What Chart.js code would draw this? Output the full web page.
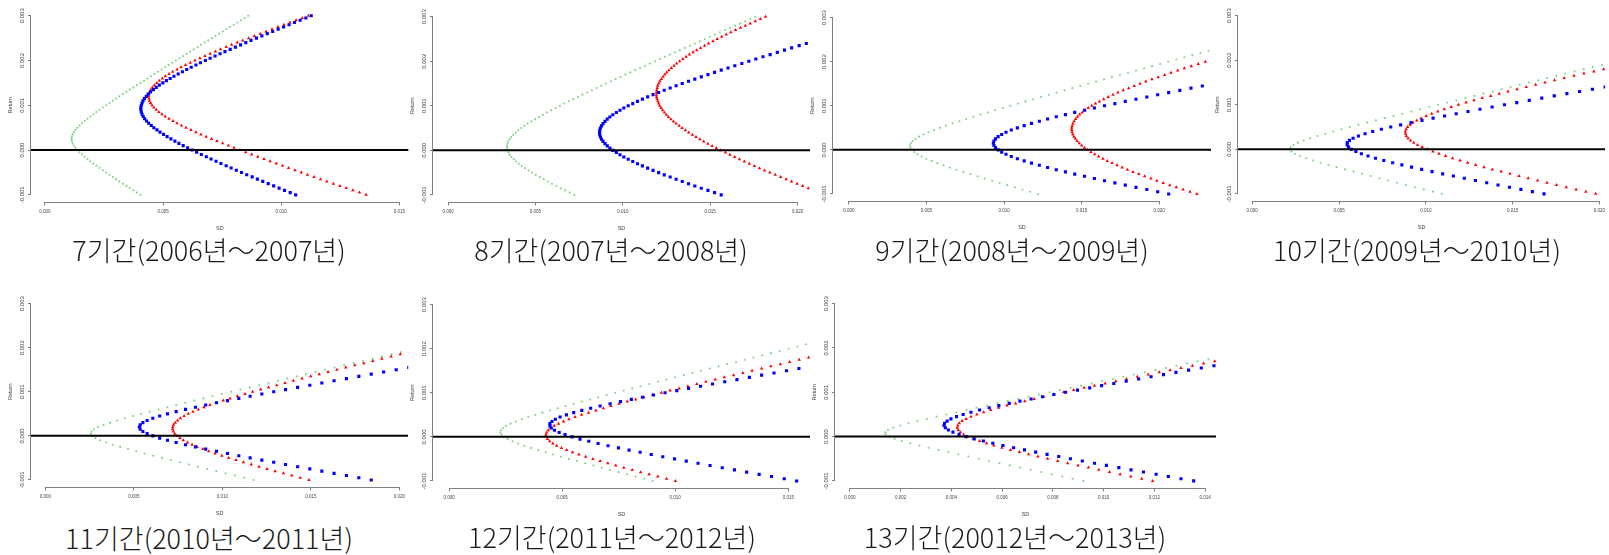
<!DOCTYPE html>
<html>
<head>
<meta charset="utf-8">
<script src="https://cdn.jsdelivr.net/npm/chart.js"></script>
<style>
  body { margin: 0; background: #fff; width: 1609px; height: 555px; position: relative; overflow: hidden; }
  .cap { position: absolute; font-family: "Noto Sans CJK KR", sans-serif; font-weight: 300; font-size: 27px; line-height: 30px; color: #1a1a1a; white-space: nowrap; transform: translateX(-50%); }
</style>
</head>
<body>
<script>
// target returns shared by every frontier
const RETURNS = [-0.001, -0.00095, -0.0009, -0.00085, -0.0008, -0.00075, -0.0007, -0.00065, -0.0006, -0.00055,
  -0.0005, -0.00045, -0.0004, -0.00035, -0.0003, -0.00025, -0.0002, -0.00015, -0.0001, -0.00005,
  0, 0.00005, 0.0001, 0.00015, 0.0002, 0.00025, 0.0003, 0.00035, 0.0004, 0.00045,
  0.0005, 0.00055, 0.0006, 0.00065, 0.0007, 0.00075, 0.0008, 0.00085, 0.0009, 0.00095,
  0.001, 0.00105, 0.0011, 0.00115, 0.0012, 0.00125, 0.0013, 0.00135, 0.0014, 0.00145,
  0.0015, 0.00155, 0.0016, 0.00165, 0.0017, 0.00175, 0.0018, 0.00185, 0.0019, 0.00195,
  0.002, 0.00205, 0.0021, 0.00215, 0.0022, 0.00225, 0.0023, 0.00235, 0.0024, 0.00245,
  0.0025, 0.00255, 0.0026, 0.00265, 0.0027, 0.00275, 0.0028, 0.00285, 0.0029, 0.00295, 0.003];

const TITLES = ["7기간(2006년～2007년)", "8기간(2007년～2008년)", "9기간(2008년～2009년)", "10기간(2009년～2010년)",
  "11기간(2010년～2011년)", "12기간(2011년～2012년)", "13기간(20012년～2013년)"];

// SD at each target return (lists stop where the curve leaves the plot)
const sd7Green = [0.00404, 0.00389, 0.00374, 0.00359, 0.00345, 0.00330, 0.00315, 0.00301, 0.00287, 0.00273, 0.00259, 0.00245, 0.00231, 0.00218, 0.00205, 0.00192, 0.00180, 0.00168, 0.00157, 0.00146, 0.00137, 0.00129, 0.00122, 0.00117, 0.00114, 0.00113, 0.00114, 0.00117, 0.00122, 0.00129, 0.00137, 0.00146, 0.00157, 0.00168, 0.00180, 0.00192, 0.00205, 0.00218, 0.00231, 0.00245, 0.00259, 0.00273, 0.00287, 0.00301, 0.00315, 0.00330, 0.00345, 0.00359, 0.00374, 0.00389, 0.00404, 0.00419, 0.00434, 0.00449, 0.00464, 0.00479, 0.00494, 0.00509, 0.00524, 0.00539, 0.00554, 0.00569, 0.00585, 0.00600, 0.00615, 0.00630, 0.00646, 0.00661, 0.00676, 0.00691, 0.00707, 0.00722, 0.00737, 0.00753, 0.00768, 0.00783, 0.00799, 0.00814, 0.00829, 0.00845, 0.00860];
const sd7Blue = [0.01061, 0.01038, 0.01014, 0.00991, 0.00968, 0.00945, 0.00922, 0.00899, 0.00877, 0.00854, 0.00832, 0.00810, 0.00788, 0.00767, 0.00745, 0.00724, 0.00703, 0.00683, 0.00662, 0.00642, 0.00623, 0.00604, 0.00585, 0.00567, 0.00550, 0.00533, 0.00517, 0.00502, 0.00487, 0.00474, 0.00461, 0.00450, 0.00439, 0.00430, 0.00422, 0.00416, 0.00411, 0.00408, 0.00406, 0.00406, 0.00408, 0.00411, 0.00415, 0.00421, 0.00429, 0.00437, 0.00447, 0.00459, 0.00471, 0.00484, 0.00499, 0.00514, 0.00530, 0.00546, 0.00564, 0.00582, 0.00600, 0.00619, 0.00639, 0.00658, 0.00679, 0.00699, 0.00720, 0.00741, 0.00762, 0.00784, 0.00806, 0.00828, 0.00850, 0.00872, 0.00895, 0.00918, 0.00941, 0.00964, 0.00987, 0.01010, 0.01033, 0.01056, 0.01080, 0.01104, 0.01127];
const sd7Red = [0.01359, 0.01331, 0.01303, 0.01275, 0.01248, 0.01221, 0.01193, 0.01166, 0.01139, 0.01111, 0.01085, 0.01058, 0.01031, 0.01005, 0.00979, 0.00953, 0.00927, 0.00901, 0.00875, 0.00850, 0.00825, 0.00800, 0.00776, 0.00752, 0.00728, 0.00705, 0.00682, 0.00660, 0.00639, 0.00618, 0.00597, 0.00578, 0.00559, 0.00542, 0.00525, 0.00509, 0.00495, 0.00482, 0.00471, 0.00461, 0.00453, 0.00447, 0.00442, 0.00440, 0.00439, 0.00440, 0.00443, 0.00448, 0.00455, 0.00463, 0.00473, 0.00484, 0.00497, 0.00510, 0.00525, 0.00541, 0.00559, 0.00576, 0.00595, 0.00615, 0.00635, 0.00656, 0.00677, 0.00699, 0.00721, 0.00743, 0.00767, 0.00790, 0.00814, 0.00837, 0.00862, 0.00886, 0.00911, 0.00936, 0.00961, 0.00986, 0.01012, 0.01037, 0.01063, 0.01089, 0.01115];

const sd8Green = [0.00722, 0.00696, 0.00670, 0.00645, 0.00620, 0.00595, 0.00571, 0.00548, 0.00525, 0.00502, 0.00481, 0.00460, 0.00441, 0.00422, 0.00405, 0.00389, 0.00376, 0.00363, 0.00353, 0.00346, 0.00340, 0.00338, 0.00337, 0.00340, 0.00344, 0.00352, 0.00361, 0.00373, 0.00387, 0.00402, 0.00419, 0.00437, 0.00456, 0.00477, 0.00498, 0.00520, 0.00543, 0.00566, 0.00590, 0.00615, 0.00640, 0.00665, 0.00691, 0.00717, 0.00743, 0.00769, 0.00796, 0.00823, 0.00850, 0.00877, 0.00904, 0.00932, 0.00959, 0.00987, 0.01015, 0.01043, 0.01071, 0.01099, 0.01127, 0.01155, 0.01184, 0.01212, 0.01241, 0.01269, 0.01298, 0.01326, 0.01355, 0.01384, 0.01412, 0.01441, 0.01469, 0.01499, 0.01527, 0.01556, 0.01585, 0.01614, 0.01643, 0.01672, 0.01700, 0.01729, 0.01758];
const sd8Blue = [0.01563, 0.01525, 0.01487, 0.01449, 0.01412, 0.01376, 0.01340, 0.01305, 0.01271, 0.01237, 0.01205, 0.01173, 0.01142, 0.01112, 0.01084, 0.01057, 0.01031, 0.01006, 0.00984, 0.00963, 0.00943, 0.00926, 0.00911, 0.00898, 0.00887, 0.00878, 0.00872, 0.00868, 0.00867, 0.00868, 0.00872, 0.00878, 0.00887, 0.00898, 0.00911, 0.00926, 0.00943, 0.00963, 0.00984, 0.01006, 0.01031, 0.01057, 0.01084, 0.01112, 0.01142, 0.01173, 0.01205, 0.01237, 0.01271, 0.01305, 0.01340, 0.01376, 0.01412, 0.01449, 0.01487, 0.01525, 0.01563, 0.01602, 0.01641, 0.01681, 0.01721, 0.01761, 0.01802, 0.01843, 0.01884, 0.01925, 0.01966, 0.02009, 0.02050, 0.02092, 0.02135];
const sd8Red = [0.02159, 0.02126, 0.02093, 0.02061, 0.02029, 0.01997, 0.01965, 0.01934, 0.01903, 0.01872, 0.01841, 0.01811, 0.01782, 0.01753, 0.01724, 0.01695, 0.01667, 0.01640, 0.01613, 0.01587, 0.01560, 0.01535, 0.01511, 0.01487, 0.01463, 0.01441, 0.01419, 0.01398, 0.01377, 0.01358, 0.01339, 0.01322, 0.01305, 0.01290, 0.01275, 0.01261, 0.01249, 0.01238, 0.01228, 0.01219, 0.01211, 0.01205, 0.01200, 0.01196, 0.01193, 0.01192, 0.01192, 0.01194, 0.01197, 0.01200, 0.01206, 0.01212, 0.01221, 0.01230, 0.01240, 0.01251, 0.01264, 0.01278, 0.01293, 0.01308, 0.01325, 0.01343, 0.01362, 0.01381, 0.01402, 0.01423, 0.01445, 0.01468, 0.01491, 0.01516, 0.01540, 0.01566, 0.01592, 0.01618, 0.01645, 0.01673, 0.01701, 0.01729, 0.01758, 0.01787, 0.01817];

const sd9Green = [0.01219, 0.01169, 0.01119, 0.01070, 0.01021, 0.00972, 0.00924, 0.00876, 0.00830, 0.00783, 0.00738, 0.00694, 0.00651, 0.00610, 0.00570, 0.00534, 0.00499, 0.00469, 0.00442, 0.00421, 0.00405, 0.00396, 0.00394, 0.00399, 0.00411, 0.00429, 0.00452, 0.00481, 0.00513, 0.00548, 0.00586, 0.00626, 0.00668, 0.00712, 0.00756, 0.00802, 0.00848, 0.00895, 0.00943, 0.00992, 0.01040, 0.01090, 0.01139, 0.01188, 0.01239, 0.01289, 0.01339, 0.01390, 0.01441, 0.01492, 0.01543, 0.01594, 0.01645, 0.01696, 0.01748, 0.01800, 0.01852, 0.01903, 0.01955, 0.02007, 0.02059, 0.02111, 0.02163, 0.02214, 0.02267, 0.02319, 0.02371];
const sd9Blue = [0.02062, 0.01991, 0.01921, 0.01851, 0.01782, 0.01715, 0.01648, 0.01583, 0.01519, 0.01456, 0.01396, 0.01337, 0.01281, 0.01228, 0.01177, 0.01130, 0.01086, 0.01047, 0.01013, 0.00985, 0.00962, 0.00945, 0.00935, 0.00931, 0.00935, 0.00945, 0.00962, 0.00985, 0.01013, 0.01047, 0.01086, 0.01130, 0.01177, 0.01228, 0.01281, 0.01337, 0.01396, 0.01456, 0.01519, 0.01583, 0.01648, 0.01715, 0.01782, 0.01851, 0.01921, 0.01991, 0.02062, 0.02134, 0.02206, 0.02279, 0.02352];
const sd9Red = [0.02244, 0.02199, 0.02155, 0.02111, 0.02069, 0.02027, 0.01986, 0.01947, 0.01907, 0.01869, 0.01832, 0.01796, 0.01762, 0.01729, 0.01697, 0.01666, 0.01638, 0.01610, 0.01585, 0.01561, 0.01539, 0.01519, 0.01501, 0.01485, 0.01471, 0.01460, 0.01451, 0.01444, 0.01439, 0.01437, 0.01437, 0.01440, 0.01445, 0.01453, 0.01462, 0.01474, 0.01488, 0.01504, 0.01523, 0.01543, 0.01566, 0.01590, 0.01616, 0.01643, 0.01672, 0.01703, 0.01735, 0.01769, 0.01804, 0.01840, 0.01877, 0.01915, 0.01954, 0.01994, 0.02036, 0.02077, 0.02120, 0.02163, 0.02208, 0.02253, 0.02298, 0.02344, 0.02390];

const sd10Green = [0.01092, 0.01041, 0.00989, 0.00937, 0.00886, 0.00834, 0.00783, 0.00733, 0.00682, 0.00632, 0.00583, 0.00534, 0.00486, 0.00439, 0.00394, 0.00351, 0.00311, 0.00275, 0.00246, 0.00226, 0.00217, 0.00221, 0.00237, 0.00263, 0.00296, 0.00334, 0.00376, 0.00421, 0.00467, 0.00514, 0.00563, 0.00612, 0.00662, 0.00712, 0.00763, 0.00814, 0.00865, 0.00917, 0.00968, 0.01020, 0.01071, 0.01123, 0.01176, 0.01228, 0.01280, 0.01332, 0.01385, 0.01437, 0.01489, 0.01541, 0.01594, 0.01647, 0.01699, 0.01752, 0.01804, 0.01857, 0.01910, 0.01962, 0.02015, 0.02068, 0.02120];
const sd10Blue = [0.01681, 0.01614, 0.01548, 0.01482, 0.01416, 0.01351, 0.01286, 0.01222, 0.01159, 0.01097, 0.01036, 0.00976, 0.00918, 0.00862, 0.00809, 0.00758, 0.00710, 0.00667, 0.00629, 0.00597, 0.00572, 0.00555, 0.00547, 0.00548, 0.00560, 0.00581, 0.00612, 0.00650, 0.00694, 0.00744, 0.00798, 0.00855, 0.00915, 0.00978, 0.01042, 0.01108, 0.01175, 0.01243, 0.01312, 0.01382, 0.01453, 0.01524, 0.01596, 0.01668, 0.01740, 0.01813, 0.01886, 0.01960, 0.02033, 0.02107, 0.02181];
const sd10Red = [0.01979, 0.01922, 0.01866, 0.01809, 0.01753, 0.01698, 0.01644, 0.01590, 0.01537, 0.01485, 0.01434, 0.01383, 0.01335, 0.01287, 0.01241, 0.01197, 0.01154, 0.01114, 0.01076, 0.01041, 0.01008, 0.00979, 0.00952, 0.00930, 0.00912, 0.00898, 0.00888, 0.00883, 0.00882, 0.00887, 0.00895, 0.00909, 0.00926, 0.00948, 0.00973, 0.01002, 0.01034, 0.01069, 0.01106, 0.01146, 0.01188, 0.01232, 0.01278, 0.01325, 0.01374, 0.01423, 0.01474, 0.01526, 0.01579, 0.01633, 0.01687, 0.01742, 0.01797, 0.01854, 0.01911, 0.01968, 0.02025, 0.02083, 0.02142];

const sd11Green = [0.01176, 0.01124, 0.01071, 0.01018, 0.00966, 0.00914, 0.00862, 0.00811, 0.00760, 0.00709, 0.00659, 0.00609, 0.00561, 0.00513, 0.00467, 0.00423, 0.00381, 0.00343, 0.00310, 0.00283, 0.00265, 0.00257, 0.00261, 0.00275, 0.00298, 0.00329, 0.00366, 0.00406, 0.00449, 0.00495, 0.00541, 0.00590, 0.00639, 0.00689, 0.00739, 0.00790, 0.00842, 0.00893, 0.00945, 0.00998, 0.01050, 0.01102, 0.01155, 0.01208, 0.01261, 0.01314, 0.01367, 0.01421, 0.01473, 0.01527, 0.01581, 0.01634, 0.01688, 0.01741, 0.01794, 0.01848, 0.01901, 0.01956, 0.02009, 0.02063, 0.02117];
const sd11Blue = [0.01841, 0.01771, 0.01701, 0.01631, 0.01562, 0.01494, 0.01425, 0.01357, 0.01290, 0.01223, 0.01157, 0.01093, 0.01029, 0.00967, 0.00906, 0.00848, 0.00792, 0.00739, 0.00690, 0.00646, 0.00607, 0.00575, 0.00551, 0.00536, 0.00531, 0.00536, 0.00551, 0.00575, 0.00607, 0.00646, 0.00690, 0.00739, 0.00792, 0.00848, 0.00906, 0.00967, 0.01029, 0.01093, 0.01157, 0.01223, 0.01290, 0.01357, 0.01425, 0.01494, 0.01562, 0.01631, 0.01701, 0.01771, 0.01841, 0.01911, 0.01982, 0.02053, 0.02124];
const sd11Red = [0.01489, 0.01440, 0.01392, 0.01345, 0.01298, 0.01252, 0.01207, 0.01163, 0.01119, 0.01077, 0.01036, 0.00997, 0.00959, 0.00923, 0.00890, 0.00858, 0.00829, 0.00803, 0.00779, 0.00760, 0.00744, 0.00731, 0.00723, 0.00719, 0.00720, 0.00725, 0.00734, 0.00747, 0.00763, 0.00784, 0.00808, 0.00834, 0.00864, 0.00896, 0.00930, 0.00967, 0.01005, 0.01044, 0.01085, 0.01128, 0.01171, 0.01216, 0.01261, 0.01307, 0.01354, 0.01401, 0.01450, 0.01499, 0.01547, 0.01597, 0.01647, 0.01697, 0.01748, 0.01799, 0.01850, 0.01901, 0.01953, 0.02005, 0.02057, 0.02109, 0.02162];

const sd12Green = [0.00900, 0.00863, 0.00825, 0.00787, 0.00750, 0.00712, 0.00675, 0.00638, 0.00602, 0.00566, 0.00530, 0.00495, 0.00460, 0.00427, 0.00394, 0.00363, 0.00333, 0.00305, 0.00281, 0.00259, 0.00243, 0.00232, 0.00227, 0.00229, 0.00238, 0.00252, 0.00272, 0.00295, 0.00322, 0.00350, 0.00381, 0.00413, 0.00447, 0.00481, 0.00516, 0.00551, 0.00587, 0.00624, 0.00660, 0.00697, 0.00735, 0.00772, 0.00810, 0.00847, 0.00885, 0.00924, 0.00961, 0.01000, 0.01038, 0.01076, 0.01114, 0.01153, 0.01192, 0.01230, 0.01269, 0.01307, 0.01346, 0.01385, 0.01423, 0.01462, 0.01501, 0.01540, 0.01579, 0.01617, 0.01657];
const sd12Blue = [0.01537, 0.01482, 0.01426, 0.01371, 0.01316, 0.01262, 0.01208, 0.01154, 0.01101, 0.01049, 0.00997, 0.00945, 0.00894, 0.00845, 0.00796, 0.00749, 0.00703, 0.00659, 0.00618, 0.00579, 0.00544, 0.00513, 0.00487, 0.00466, 0.00452, 0.00446, 0.00446, 0.00455, 0.00470, 0.00491, 0.00519, 0.00551, 0.00587, 0.00626, 0.00668, 0.00712, 0.00758, 0.00806, 0.00855, 0.00904, 0.00955, 0.01007, 0.01059, 0.01112, 0.01165, 0.01219, 0.01273, 0.01328, 0.01382, 0.01437, 0.01492, 0.01547, 0.01603];
const sd12Red = [0.01001, 0.00962, 0.00923, 0.00885, 0.00847, 0.00810, 0.00773, 0.00737, 0.00702, 0.00668, 0.00636, 0.00604, 0.00574, 0.00546, 0.00520, 0.00497, 0.00476, 0.00459, 0.00445, 0.00435, 0.00429, 0.00428, 0.00431, 0.00439, 0.00450, 0.00465, 0.00484, 0.00506, 0.00530, 0.00557, 0.00586, 0.00617, 0.00649, 0.00682, 0.00716, 0.00752, 0.00788, 0.00825, 0.00862, 0.00900, 0.00939, 0.00977, 0.01017, 0.01056, 0.01096, 0.01136, 0.01177, 0.01217, 0.01258, 0.01299, 0.01340, 0.01382, 0.01423, 0.01465, 0.01506, 0.01548, 0.01590, 0.01632, 0.01674];

const sd13Green = [0.00920, 0.00878, 0.00837, 0.00795, 0.00754, 0.00712, 0.00671, 0.00630, 0.00589, 0.00548, 0.00508, 0.00467, 0.00427, 0.00388, 0.00349, 0.00310, 0.00273, 0.00238, 0.00205, 0.00176, 0.00154, 0.00140, 0.00139, 0.00150, 0.00171, 0.00199, 0.00231, 0.00266, 0.00303, 0.00341, 0.00380, 0.00419, 0.00459, 0.00499, 0.00540, 0.00581, 0.00622, 0.00663, 0.00704, 0.00745, 0.00787, 0.00828, 0.00870, 0.00911, 0.00953, 0.00995, 0.01036, 0.01078, 0.01119, 0.01162, 0.01204, 0.01246, 0.01287, 0.01329, 0.01371, 0.01413, 0.01455];
const sd13Blue = [0.01355, 0.01305, 0.01255, 0.01207, 0.01157, 0.01108, 0.01060, 0.01011, 0.00964, 0.00916, 0.00869, 0.00823, 0.00777, 0.00732, 0.00688, 0.00645, 0.00603, 0.00563, 0.00526, 0.00490, 0.00458, 0.00430, 0.00406, 0.00388, 0.00376, 0.00371, 0.00373, 0.00383, 0.00398, 0.00420, 0.00446, 0.00477, 0.00511, 0.00549, 0.00587, 0.00628, 0.00670, 0.00714, 0.00759, 0.00804, 0.00850, 0.00897, 0.00945, 0.00992, 0.01040, 0.01089, 0.01138, 0.01187, 0.01236, 0.01285, 0.01335, 0.01385, 0.01435, 0.01484, 0.01535];
const sd13Red = [0.01193, 0.01150, 0.01107, 0.01065, 0.01023, 0.00981, 0.00940, 0.00899, 0.00858, 0.00819, 0.00779, 0.00741, 0.00704, 0.00668, 0.00633, 0.00599, 0.00567, 0.00538, 0.00511, 0.00486, 0.00465, 0.00448, 0.00435, 0.00427, 0.00423, 0.00425, 0.00431, 0.00442, 0.00458, 0.00477, 0.00500, 0.00527, 0.00555, 0.00586, 0.00619, 0.00653, 0.00689, 0.00726, 0.00764, 0.00803, 0.00842, 0.00882, 0.00923, 0.00964, 0.01006, 0.01048, 0.01090, 0.01133, 0.01176, 0.01219, 0.01262, 0.01305, 0.01350, 0.01394, 0.01438];

// visible SD range of each small plot, and its x tick step
const X_RANGES = [[-0.00059, 0.01539], [-0.00086, 0.02071], [-0.00103, 0.02335], [-0.00082, 0.02033],
  [-0.00081, 0.0205], [-0.00071, 0.01596], [-0.00059, 0.01443]];
const X_STEPS = [0.005, 0.005, 0.005, 0.005, 0.005, 0.005, 0.002];
const Y_RANGE = [-0.00116, 0.00316];

// page layout: plot box [left, top, right, bottom] and caption centre
const panels = [
  { green: sd7Green, blue: sd7Blue, red: sd7Red, box: [31, 8, 409, 202], cap: [209, 250] },
  { green: sd8Green, blue: sd8Blue, red: sd8Red, box: [433, 9, 810, 202], cap: [611, 250] },
  { green: sd9Green, blue: sd9Blue, red: sd9Red, box: [833, 10, 1211, 201], cap: [1012, 250] },
  { green: sd10Green, blue: sd10Blue, red: sd10Red, box: [1238, 8, 1609, 201], cap: [1417, 250] },
  { green: sd11Green, blue: sd11Blue, red: sd11Red, box: [31, 296, 409, 487], cap: [209, 538] },
  { green: sd12Green, blue: sd12Blue, red: sd12Red, box: [433, 297, 810, 488], cap: [612, 537] },
  { green: sd13Green, blue: sd13Blue, red: sd13Red, box: [835, 296, 1216, 488], cap: [1015, 537] }
];

Chart.defaults.font.family = '"Liberation Sans", Arial, sans-serif';
Chart.defaults.animation = false;

// R draws its axis line only between the first and last tick
const rAxisLines = {
  id: 'rAxisLines',
  afterDraw(chart) {
    const { ctx, chartArea, scales } = chart;
    const xt = scales.x.ticks, yt = scales.y.ticks;
    ctx.save();
    ctx.strokeStyle = '#808080';
    ctx.lineWidth = 1;
    ctx.beginPath();
    ctx.moveTo(scales.x.getPixelForValue(xt[0].value), chartArea.bottom + 0.5);
    ctx.lineTo(scales.x.getPixelForValue(xt[xt.length - 1].value), chartArea.bottom + 0.5);
    ctx.moveTo(chartArea.left - 0.5, scales.y.getPixelForValue(yt[0].value));
    ctx.lineTo(chartArea.left - 0.5, scales.y.getPixelForValue(yt[yt.length - 1].value));
    ctx.stroke();
    ctx.restore();
  }
};

function points(sd) {
  return sd.map((s, i) => ({ x: s, y: RETURNS[i] }));
}

panels.forEach((p, i) => {
  const [l, t, r, b] = p.box;
  const w = r - l + 30, h = b - t + 30;
  const canvas = document.createElement('canvas');
  canvas.width = w;
  canvas.height = h;
  canvas.style.cssText = `position:absolute;left:${l - 30}px;top:${t}px;width:${w}px;height:${h}px;`;
  document.body.appendChild(canvas);

  const cap = document.createElement('div');
  cap.className = 'cap';
  cap.textContent = TITLES[i];
  cap.style.left = p.cap[0] + 'px';
  cap.style.top = (p.cap[1] - 15) + 'px';
  document.body.appendChild(cap);

  new Chart(canvas, {
    type: 'scatter',
    data: {
      datasets: [
        { data: [{ x: X_RANGES[i][0], y: 0 }, { x: X_RANGES[i][1], y: 0 }], showLine: true,
          borderColor: '#000', borderWidth: 2, pointRadius: 0 },
        { data: points(p.blue), pointStyle: 'rect', pointRadius: 2.2, pointBorderWidth: 0,
          pointBackgroundColor: '#0000ff', pointBorderColor: '#0000ff' },
        { data: points(p.red), pointStyle: 'triangle', pointRadius: 2.0, pointBorderWidth: 0,
          pointBackgroundColor: '#ff0000', pointBorderColor: '#ff0000' },
        { data: points(p.green), pointStyle: 'circle', pointRadius: 1.05, pointBorderWidth: 0,
          pointBackgroundColor: '#80d480', pointBorderColor: '#80d480' }
      ]
    },
    options: {
      responsive: false,
      events: [],
      layout: { padding: 0, autoPadding: false },
      plugins: { legend: { display: false }, tooltip: { enabled: false } },
      scales: {
        x: {
          type: 'linear', min: X_RANGES[i][0], max: X_RANGES[i][1],
          afterFit: s => { s.height = 30; },
          border: { display: false },
          grid: { drawOnChartArea: false, tickLength: 3.5, color: '#808080' },
          ticks: { stepSize: X_STEPS[i], includeBounds: false, autoSkip: false, maxRotation: 0, padding: 4,
            font: { size: 4.5 }, color: '#444', callback: v => v.toFixed(3) },
          title: { display: true, text: 'SD', font: { size: 5.5 }, color: '#444', padding: { top: 0, bottom: 0 } }
        },
        y: {
          type: 'linear', min: Y_RANGE[0], max: Y_RANGE[1],
          afterFit: s => { s.width = 30; },
          border: { display: false },
          grid: { drawOnChartArea: false, tickLength: 3, color: '#808080' },
          ticks: { stepSize: 0.001, includeBounds: false, autoSkip: false, minRotation: 90, maxRotation: 90,
            crossAlign: 'center', padding: -3, font: { size: 6 }, color: '#444', callback: v => v.toFixed(3) },
          title: { display: true, text: 'Return', font: { size: 5.5 }, color: '#444', padding: { top: 6.5, bottom: 0 } }
        }
      }
    },
    plugins: [rAxisLines]
  });
});
</script>
</body>
</html>
